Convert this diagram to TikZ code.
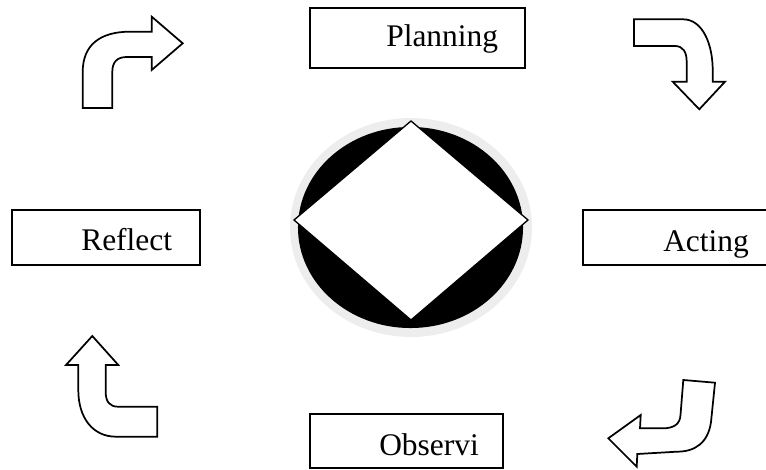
\documentclass[tikz,border=0pt]{standalone}
\usepackage{fontspec}
\setmainfont{Liberation Serif}
\begin{document}
\begin{tikzpicture}[x=0.75pt,y=-0.75pt,
  frame/.style={draw=black,line width=1.4pt,fill=white},
  lbl/.style={anchor=base west,inner sep=0pt,font=\fontsize{23.6}{28}\selectfont},
  bent/.style={draw=black,line width=1.3pt,fill=white,line join=miter}]
\useasboundingbox (0,0) rectangle (766,470);
\clip (0,0) rectangle (766,470);

% central emblem: ring, black disc and white diamond
\fill[black!7] (411,227.5) ellipse [x radius=90.75pt, y radius=82.1pt];
\fill[black] (410.5,227.5) ellipse [x radius=84.4pt, y radius=75.4pt];
\draw[fill=white,line width=1pt] (411,121) -- (528,220) -- (411,320) -- (294,220) -- cycle;

% stage boxes
\draw[frame] (310,8) rectangle (525,68);
\node[lbl] (planning) at (386,47) {Planning};

\draw[frame] (583,210) rectangle (790,265);
\node[lbl] (acting) at (663,251.5) {Acting};

\draw[frame] (310,414) rectangle (503,468);
\node[lbl] (observing) at (379,455) {Observi};

\draw[frame] (12,210) rectangle (200,265);
\node[lbl] (reflect) at (81,250.5) {Reflect};

% bent arrows between the stages
\draw[bent] (82.7,108) -- (82.7,72) .. controls (82.7,45) and (100,31.7) .. (130,31.7)
  -- (151.7,31.7) -- (151.7,16.7) -- (182.7,43.3) -- (151.7,70) -- (151.7,57)
  -- (127,57) .. controls (117,57) and (112.3,62) .. (112.3,72) -- (112.3,108) -- cycle;

\draw[bent] (634,19.3) -- (683,19.3) .. controls (703,19.3) and (712.7,45) .. (712.7,70)
  -- (712.7,81.7) -- (725,81.7) -- (699.3,109.3) -- (672.7,81.7) -- (686.7,81.7)
  -- (686.7,62) .. controls (686.7,52) and (683,46) .. (675,46) -- (634,46) -- cycle;

\draw[bent] (683.3,380) -- (715,382.7) -- (711,422) .. controls (708,443) and (695,451.7) .. (676.7,451.7)
  -- (637.3,454) -- (636.7,466.7) -- (608.3,438.3) -- (640.7,415) -- (640,428.3)
  -- (663,428.3) .. controls (674,428.3) and (680,424) .. (680.5,415) -- cycle;

\draw[bent] (92.3,336) -- (118.3,365) -- (105.7,365) -- (105.7,392)
  .. controls (105.7,402) and (110,406.7) .. (118,406.7) -- (157.3,406.7) -- (157.3,436.7)
  -- (116,436.7) .. controls (93,436.7) and (78.3,418) .. (78.3,390) -- (78.3,365) -- (66,365) -- cycle;
\end{tikzpicture}
\end{document}
